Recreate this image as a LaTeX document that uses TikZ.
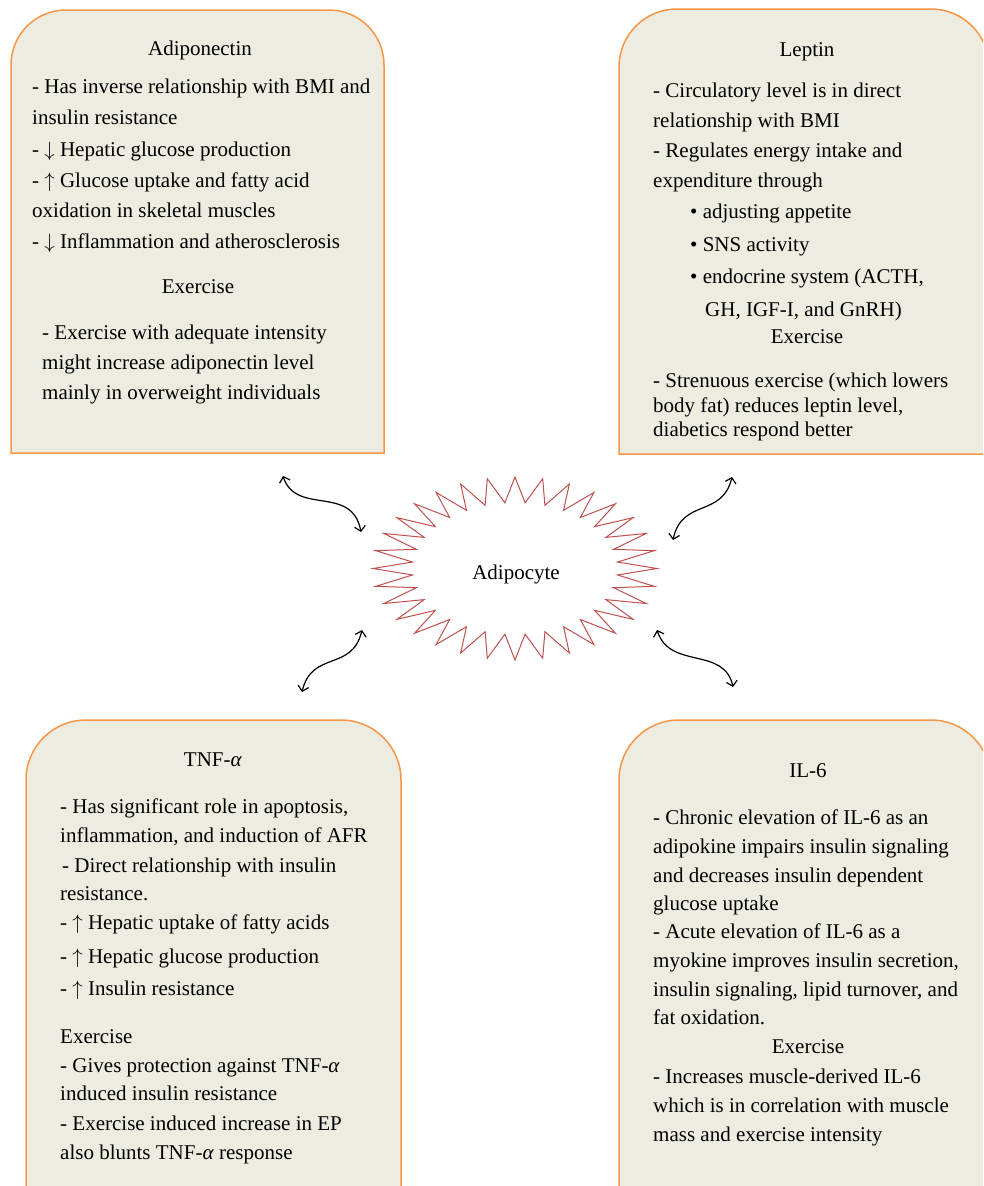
\documentclass[tikz,border=0pt]{standalone}
\usepackage{fontspec}
\setmainfont{Liberation Serif}
\usetikzlibrary{arrows.meta}
\definecolor{boxfill}{HTML}{EEECE1}
\definecolor{boxline}{HTML}{F79646}
\definecolor{burstred}{HTML}{C0504D}
\newcommand{\dnarr}{$\downarrow$}
\newcommand{\uparr}{$\uparrow$}
\begin{document}
\begin{tikzpicture}[x=1pt,y=-1pt,
  font=\fontsize{21}{25}\selectfont,
  panel/.style={draw=boxline,fill=boxfill,line width=1.5pt},
  txtline/.style={anchor=base west,inner sep=0pt,text=black},
  ctrline/.style={anchor=base,inner sep=0pt,text=black},
  burst/.style={draw=burstred,line width=1pt,line join=miter},
  link/.style={draw=black,line width=1.2pt,{Straight Barb[length=5pt,width=11pt]}-{Straight Barb[length=5pt,width=11pt]}}]
\useasboundingbox (0,0) rectangle (983,1186);
\clip (0,0) rectangle (983,1186);
% ---------- panels ----------
\draw[panel] (11,453) -- (11,65) arc[start angle=180,end angle=90,x radius=55,y radius=-55] -- (329,10) arc[start angle=90,end angle=0,x radius=55,y radius=-55] -- (384,453) -- cycle;
\draw[panel] (619,454) -- (619,67) arc[start angle=180,end angle=90,x radius=58,y radius=-58] -- (931,9) arc[start angle=90,end angle=0,x radius=58,y radius=-58] -- (989,454) -- cycle;
\draw[panel] (26,1200) -- (26,780) arc[start angle=180,end angle=90,x radius=60,y radius=-60] -- (341,720) arc[start angle=90,end angle=0,x radius=60,y radius=-60] -- (401,1200);
\draw[panel] (619,1200) -- (619,780) arc[start angle=180,end angle=90,x radius=60,y radius=-60] -- (931,720) arc[start angle=90,end angle=0,x radius=60,y radius=-60] -- (991,1200);
% ---------- Adiponectin ----------
\node[ctrline] (adtitle) at (200,55) {Adiponectin};
\foreach \x/\y/\txt [count=\i] in {
  32/93/{- Has inverse relationship with BMI and},
  32/124/{insulin resistance},
  32/156/{- \dnarr\ Hepatic glucose production},
  32/187/{- \uparr\ Glucose uptake and fatty acid},
  32/217/{oxidation in skeletal muscles},
  32/248/{- \dnarr\ Inflammation and atherosclerosis},
  42/339/{- Exercise with adequate intensity},
  42/369/{might increase adiponectin level},
  42/399/{mainly in overweight individuals}}
  \node[txtline] (ad\i) at (\x,\y) {\txt};
\node[ctrline] (adex) at (198,293) {Exercise};
% ---------- Leptin ----------
\node[ctrline] (letitle) at (807,56) {Leptin};
\foreach \x/\y/\txt [count=\i] in {
  653/97/{- Circulatory level is in direct},
  653/127/{relationship with BMI},
  653/157/{- Regulates energy intake and},
  653/187/{expenditure through},
  690/218/{• adjusting appetite},
  690/251/{• SNS activity},
  690/283/{• endocrine system (ACTH,},
  705/316/{GH, IGF-I, and GnRH)},
  653/387/{- Strenuous exercise (which lowers},
  653/412/{body fat) reduces leptin level,},
  653/436/{diabetics respond better}}
  \node[txtline] (le\i) at (\x,\y) {\txt};
\node[ctrline] (leex) at (807,343) {Exercise};
% ---------- TNF ----------
\node[ctrline] (tntitle) at (213,766) {TNF-\textit{α}};
\foreach \x/\y/\txt [count=\i] in {
  60/813/{- Has significant role in apoptosis,},
  60/842/{inflammation, and induction of AFR},
  62/872/{- Direct relationship with insulin},
  60/900/{resistance.},
  60/929/{- \uparr\ Hepatic uptake of fatty acids},
  60/963/{- \uparr\ Hepatic glucose production},
  60/995/{- \uparr\ Insulin resistance},
  60/1043/{Exercise},
  60/1072/{- Gives protection against TNF-\textit{α}},
  60/1100/{induced insulin resistance},
  60/1130/{- Exercise induced increase in EP},
  60/1159/{also blunts TNF-\textit{α} response}}
  \node[txtline] (tn\i) at (\x,\y) {\txt};
% ---------- IL-6 ----------
\node[ctrline] (iltitle) at (808,777) {IL-6};
\foreach \x/\y/\txt [count=\i] in {
  653/824/{- Chronic elevation of IL-6 as an},
  653/853/{adipokine impairs insulin signaling},
  653/882/{and decreases insulin dependent},
  653/910/{glucose uptake},
  653/938/{- Acute elevation of IL-6 as a},
  653/967/{myokine improves insulin secretion,},
  653/996/{insulin signaling, lipid turnover, and},
  653/1024/{fat oxidation.},
  653/1083/{- Increases muscle-derived IL-6},
  653/1112/{which is in correlation with muscle},
  653/1141/{mass and exercise intensity}}
  \node[txtline] (il\i) at (\x,\y) {\txt};
\node[ctrline] (ilex) at (808,1053) {Exercise};
% ---------- Adipocyte ----------
\coordinate (adc) at (515,568.5);
\draw[burst,shift={(adc)}] (90:142 and 91.5)
  \foreach \k in {0,...,31}{ -- ({95.625+\k*11.25}:103 and 66) -- ({101.25+\k*11.25}:142 and 91.5)} -- cycle;
\node[ctrline] (adipocyte) at (516,579) {Adipocyte};
% ---------- connectors ----------
\coordinate (a1s) at (283,476); \coordinate (a1e) at (361,532);
\coordinate (a2s) at (732,477); \coordinate (a2e) at (673,540);
\coordinate (a3s) at (362,630); \coordinate (a3e) at (302,692);
\coordinate (a4s) at (657,630); \coordinate (a4e) at (733,687);
\draw[link] (a1s) .. controls (296,516) and (352,484) .. (a1e);
\draw[link] (a2s) .. controls (722,518) and (682,498) .. (a2e);
\draw[link] (a3s) .. controls (352,672) and (312,650) .. (a3e);
\draw[link] (a4s) .. controls (670,670) and (724,646) .. (a4e);
\end{tikzpicture}
\end{document}
